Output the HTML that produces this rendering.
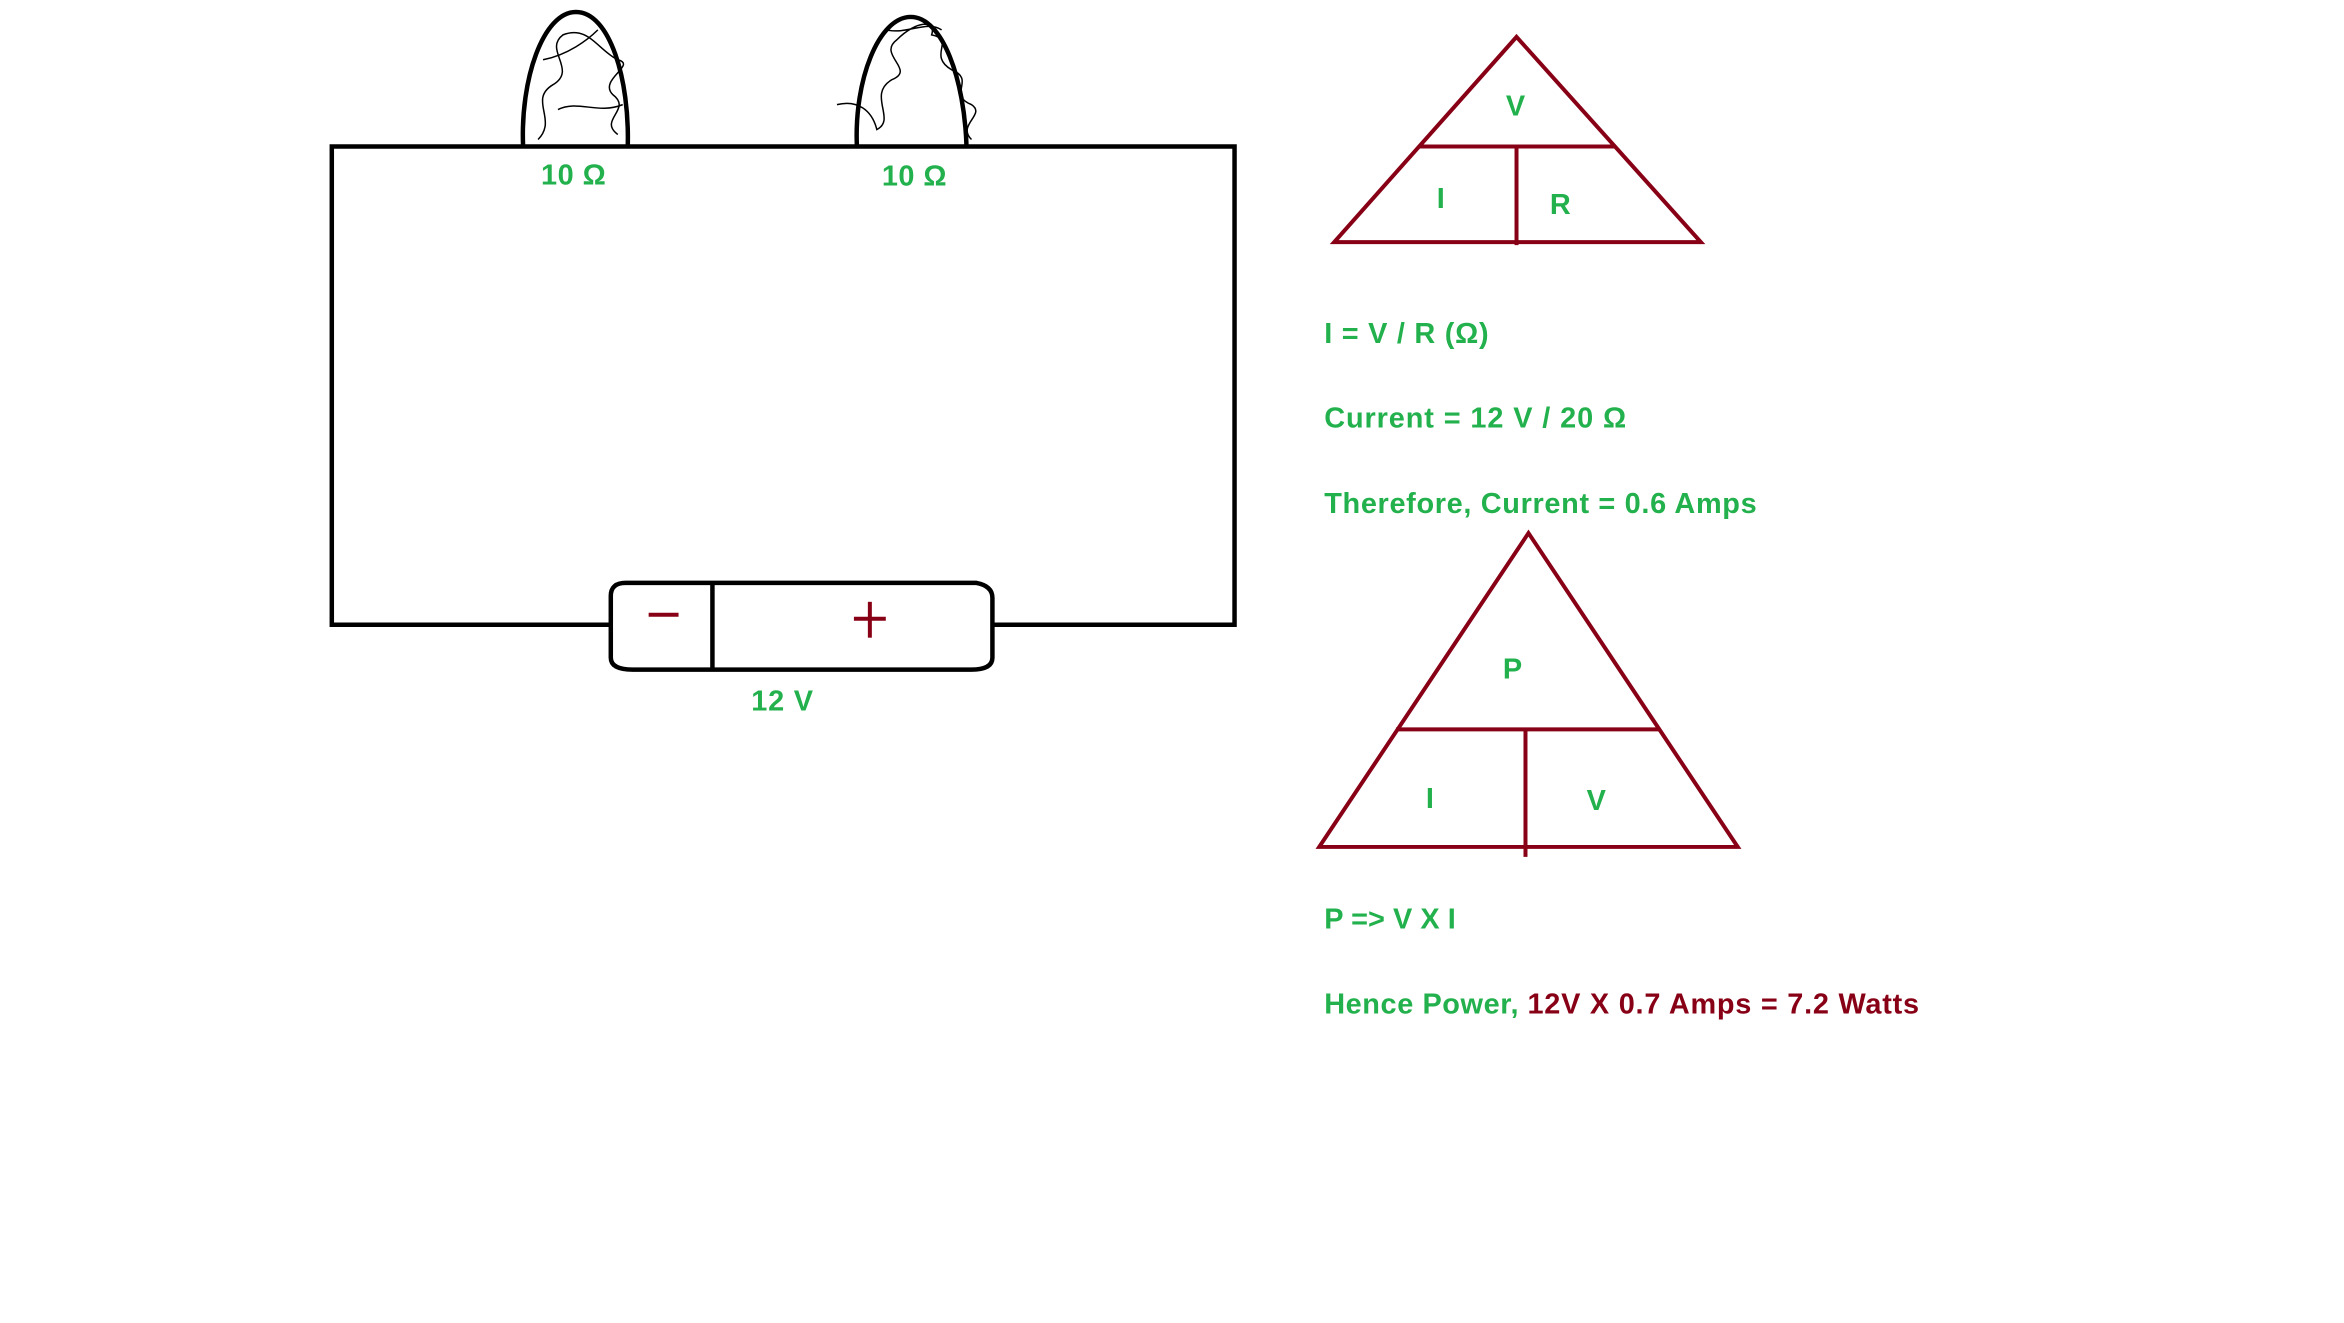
<!DOCTYPE html>
<html><head><meta charset="utf-8"><style>
html,body{margin:0;padding:0;background:#fff;}
svg{display:block;}
text{font-family:"Liberation Sans",sans-serif;font-weight:bold;}
.g{fill:#22b14c;}
.r{fill:#880015;}
</style></head><body>
<svg width="2344" height="1323" viewBox="0 0 2344 1323">
<g transform="scale(0.9964)">
<g fill="none" stroke="#000" stroke-width="4.5">
  <path d="M613,627 L333,627 L333,147 L1239,147 L1239,627 L996,627"/>
  <path d="M525,147 C522,80 545,12 578,12 C612,12 632,80 630,147"/>
  <path stroke-width="1.5" d="M540,140 C560,120 530,100 555,85 C580,70 545,50 565,35 C590,25 600,50 620,60 C640,65 600,80 615,95 C635,110 600,120 620,135 M545,60 C570,55 590,40 600,30 M560,110 C580,100 600,115 625,105"/>
  <path d="M860,147 C857,80 882,17 914,17 C946,17 968,80 970,147"/>
  <path stroke-width="1.5" d="M840,105 C860,100 875,110 880,130 C900,120 870,95 895,80 C920,70 880,55 900,40 C920,20 940,20 935,35 C960,40 930,55 955,70 C980,80 950,95 975,105 C990,115 960,125 975,140 M890,30 C910,35 930,20 945,30"/>
  <path d="M628,585 L980,585 Q996,588 996,600 L996,660 Q996,672 975,672 L635,672 Q613,672 613,660 L613,598 Q613,585 628,585 Z"/>
  <line x1="715" y1="585" x2="715" y2="672"/>
</g>
<g fill="none" stroke="#880015" stroke-width="4">
  <line x1="651" y1="617" x2="681" y2="617"/>
  <line x1="857" y1="621" x2="889" y2="621"/>
  <line x1="873" y1="604" x2="873" y2="640"/>
  <path d="M1522,37 L1339,243 L1707,243 Z M1425,147 L1620,147 M1522,147 L1522,246"/>
  <path d="M1534,535 L1324,850 L1744,850 Z M1401,732 L1665,732 M1531,732 L1531,860"/>
</g>
<text class="g" x="543" y="185" textLength="65" font-size="29">10 Ω</text>
<text class="g" x="885" y="186" textLength="65" font-size="29">10 Ω</text>
<text class="g" x="754" y="713" textLength="62" font-size="29">12 V</text>
<text class="g" x="1521" y="116" text-anchor="middle" font-size="29">V</text>
<text class="g" x="1446" y="209" text-anchor="middle" font-size="29">I</text>
<text class="g" x="1566" y="215" text-anchor="middle" font-size="29">R</text>
<text class="g" x="1518" y="681" text-anchor="middle" font-size="29">P</text>
<text class="g" x="1435" y="811" text-anchor="middle" font-size="29">I</text>
<text class="g" x="1602" y="813" text-anchor="middle" font-size="29">V</text>
<text class="g" x="1329" y="344" textLength="165" font-size="29">I = V / R (Ω)</text>
<text class="g" x="1329" y="429" textLength="303" font-size="29">Current = 12 V / 20 Ω</text>
<text class="g" x="1329" y="515" textLength="434" font-size="29">Therefore, Current = 0.6 Amps</text>
<text class="g" x="1329" y="932" textLength="132" font-size="29">P =&gt; V X I</text>
<text class="g" x="1329" y="1017" textLength="195" font-size="29">Hence Power,</text>
<text class="r" x="1533" y="1017" textLength="393" font-size="29">12V X 0.7 Amps = 7.2 Watts</text>
</g>
</svg>
</body></html>
